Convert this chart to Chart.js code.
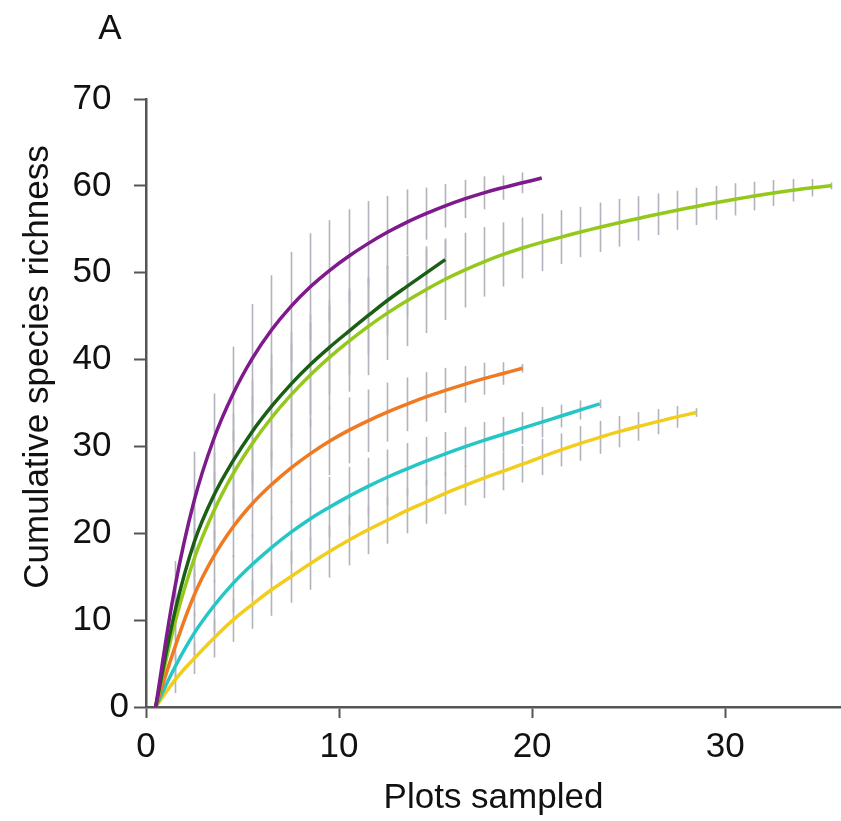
<!DOCTYPE html>
<html>
<head>
<meta charset="utf-8">
<title>Cumulative species richness</title>
<script src="https://cdn.jsdelivr.net/npm/chart.js@4.4.1/dist/chart.umd.min.js"></script>
<style>
    html, body { margin: 0; padding: 0; background: #ffffff; }
    #chart-wrap { width: 841px; height: 821px; }
</style>
</head>
<body>
<div id="chart-wrap"><canvas id="richness-canvas" width="841" height="821"></canvas></div>
<script>
// Mean cumulative richness, index = plots sampled (0, 1, 2, ...)
const purpleMean = [0, 13.8, 23.8, 30.8, 36.0, 40.1, 43.4, 46.1, 48.35, 50.25, 51.9, 53.35, 54.65, 55.8, 56.8, 57.7, 58.5, 59.2, 59.8, 60.35, 60.9];
const darkGreenMean = [0, 11, 19, 24.3, 28.3, 31.7, 34.6, 37.15, 39.4, 41.4, 43.25, 45.05, 46.8, 48.4, 49.95, 51.5];
const limeMean = [0, 9.7, 17.1, 22.5, 26.8, 30.3, 33.3, 35.9, 38.2, 40.25, 42.1, 43.8, 45.35, 46.75, 48.05, 49.25, 50.3, 51.25, 52.1, 52.85, 53.5, 54.1, 54.68, 55.23, 55.75, 56.25, 56.73, 57.19, 57.63, 58.05, 58.45, 58.83, 59.18, 59.5, 59.78, 60.0];
const orangeMean = [0, 6.9, 12.9, 17.3, 20.7, 23.4, 25.6, 27.5, 29.15, 30.6, 31.85, 32.95, 33.95, 34.85, 35.7, 36.45, 37.15, 37.8, 38.4, 39.0];
const cyanMean = [0, 4.6, 8.5, 11.6, 14.2, 16.4, 18.35, 20.1, 21.65, 23.0, 24.25, 25.4, 26.45, 27.4, 28.3, 29.15, 29.95, 30.7, 31.4, 32.1, 32.8, 33.5, 34.2, 34.9];
const yellowMean = [0, 3.1, 5.6, 7.9, 10.0, 11.8, 13.5, 15.0, 16.5, 17.9, 19.2, 20.4, 21.5, 22.6, 23.6, 24.6, 25.5, 26.35, 27.15, 27.95, 28.8, 29.6, 30.35, 31.05, 31.7, 32.3, 32.85, 33.4, 33.9];

// Standard deviations (grey error bars)
const purpleSd = [0, 3, 5.6, 5.3, 5.5, 6.3, 6.3, 6.3, 6.2, 5.8, 5.4, 4.9, 4.2, 3.8, 3.0, 2.5, 2.2, 1.9, 1.4, 1.2, 0];
const darkGreenSd = [0, 2.5, 4, 5, 5.5, 6, 6, 6, 5.8, 5.5, 5, 4.5, 4, 3.5, 2.8, 2.2];
const limeSd = [0, 2, 3.5, 4.5, 5, 5.5, 5.8, 6, 6, 6, 5.8, 5.6, 5.4, 5.2, 5.0, 4.7, 4.3, 4.0, 3.7, 3.5, 3.3, 3.1, 2.9, 2.85, 2.75, 2.55, 2.4, 2.25, 2.15, 1.95, 1.85, 1.65, 1.5, 1.3, 1.0, 0.4];
const orangeSd = [0, 1.5, 2.5, 3, 3.5, 3.8, 4, 4, 4, 3.9, 3.8, 3.6, 3.4, 3.1, 2.85, 2.6, 2.1, 1.85, 1.3, 0.5];
const cyanSd = [0, 1.5, 2.5, 3, 3.3, 3.5, 3.6, 3.6, 3.6, 3.5, 3.4, 3.3, 3.2, 3.0, 2.8, 2.5, 2.3, 2.1, 2.0, 1.85, 1.75, 1.3, 1.1, 0.5];
const yellowSd = [0, 1.5, 1.8, 2.2, 2.5, 2.8, 3, 3, 3, 3, 2.9, 2.8, 2.7, 2.6, 2.5, 2.4, 2.3, 2.3, 2.2, 2.1, 2.1, 1.9, 2.0, 1.9, 1.8, 1.65, 1.45, 1.25, 0.5];

const xTicks = [0, 10, 20, 30];
const yTicks = [0, 10, 20, 30, 40, 50, 60, 70];

const panelLetter = 'A';
const xTitle = 'Plots sampled';
const yTitle = 'Cumulative species richness';

const TEXT_FONT = '"Liberation Sans", Arial, sans-serif';

// first dataset is drawn on top
const seriesList = [
    { mean: purpleMean, sd: purpleSd, color: '#7e1a8c' },
    { mean: darkGreenMean, sd: darkGreenSd, color: '#1b5e16' },
    { mean: limeMean, sd: limeSd, color: '#94c81a' },
    { mean: orangeMean, sd: orangeSd, color: '#ef7a22' },
    { mean: cyanMean, sd: cyanSd, color: '#25c6c6' },
    { mean: yellowMean, sd: yellowSd, color: '#f2cd1c' }
];

// category axis: n plots sits half a unit right of the tick
function toPoints(values) {
    return values.map((v, i) => ({ x: i + 0.5, y: v }));
}

const errorBarPlugin = {
    id: 'errorBars',
    beforeDatasetsDraw(chart) {
        const { ctx, scales: { x, y } } = chart;
        ctx.save();
        ctx.strokeStyle = '#b2b2bc';
        ctx.lineWidth = 1.6;
        chart.data.datasets.forEach(ds => {
            ds.data.forEach((pt, i) => {
                const sd = ds.sd[i];
                if (!sd) return;
                const px = Math.round(x.getPixelForValue(pt.x)) + 0.5;
                ctx.beginPath();
                ctx.moveTo(px, y.getPixelForValue(pt.y - sd));
                ctx.lineTo(px, y.getPixelForValue(pt.y + sd));
                ctx.stroke();
            });
        });
        ctx.restore();
    }
};

const textPlugin = {
    id: 'panelText',
    afterDraw(chart) {
        const ctx = chart.ctx;
        ctx.save();
        ctx.fillStyle = '#111111';
        ctx.font = '35px ' + TEXT_FONT;
        ctx.textAlign = 'center';
        ctx.textBaseline = 'middle';
        ctx.fillText(panelLetter, 110, 29);
        ctx.translate(38, 367);
        ctx.rotate(-Math.PI / 2);
        ctx.fillText(yTitle, 0, 0);
        ctx.restore();
    }
};

const axisColor = '#555555';

const config = {
    type: 'line',
    data: {
        datasets: seriesList.map(s => ({
            data: toPoints(s.mean),
            sd: s.sd,
            borderColor: s.color,
            borderWidth: 3.5,
            pointRadius: 0,
            fill: false,
            tension: 0.4
        }))
    },
    options: {
        responsive: false,
        animation: false,
        devicePixelRatio: 1,
        layout: { padding: { top: 99, left: 0, right: 0, bottom: 0 } },
        plugins: {
            legend: { display: false },
            tooltip: { enabled: false }
        },
        scales: {
            x: {
                type: 'linear',
                min: 0,
                max: 36,
                afterBuildTicks: s => { s.ticks = xTicks.map(v => ({ value: v })); },
                afterFit: s => { s.height = 114; },
                ticks: {
                    color: '#111111',
                    font: { family: TEXT_FONT, size: 35 },
                    padding: 8,
                    maxRotation: 0,
                    autoSkip: false
                },
                grid: {
                    drawOnChartArea: false,
                    tickLength: 11,
                    tickColor: axisColor,
                    tickWidth: 2
                },
                border: { color: axisColor, width: 2.5 },
                title: {
                    display: true,
                    text: xTitle,
                    color: '#111111',
                    font: { family: TEXT_FONT, size: 35 },
                    padding: { top: 4, bottom: 2 }
                }
            },
            y: {
                type: 'linear',
                min: 0,
                max: 70,
                afterBuildTicks: s => { s.ticks = yTicks.map(v => ({ value: v })); },
                afterFit: s => { s.width = 146; },
                ticks: {
                    color: '#111111',
                    font: { family: TEXT_FONT, size: 35 },
                    padding: 5,
                    // the origin label sits closer to the axis than the others
                    callback: v => (v === 0 ? '0' : v + '\u2002')
                },
                grid: {
                    drawOnChartArea: false,
                    tickLength: 12,
                    tickColor: axisColor,
                    tickWidth: 2
                },
                border: { color: axisColor, width: 2.5 }
            }
        }
    },
    plugins: [errorBarPlugin, textPlugin]
};

const richnessChart = new Chart(document.getElementById('richness-canvas'), config);
</script>
</body>
</html>
